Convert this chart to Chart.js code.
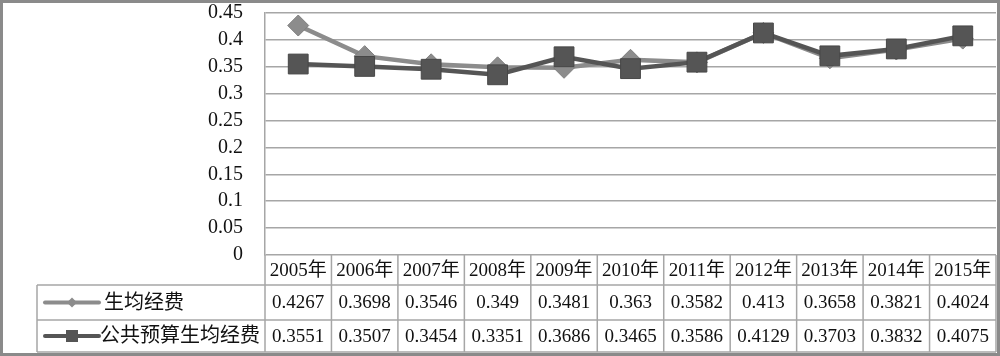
<!DOCTYPE html>
<html><head><meta charset="utf-8">
<script src="https://cdn.jsdelivr.net/npm/chart.js@4"></script>
<style>html,body{margin:0;padding:0;background:#fff}#wrap{width:1000px;height:356px;position:relative}</style>
</head><body><div id="wrap"><canvas id="c" width="1000" height="356"></canvas></div>
<script>
const categories = ["2005年","2006年","2007年","2008年","2009年","2010年","2011年","2012年","2013年","2014年","2015年"];
const seriesNames = ["生均经费","公共预算生均经费"];
const perStudent = [0.4267,0.3698,0.3546,0.349,0.3481,0.363,0.3582,0.413,0.3658,0.3821,0.4024];
const publicBudget = [0.3551,0.3507,0.3454,0.3351,0.3686,0.3465,0.3586,0.4129,0.3703,0.3832,0.4075];
const perStudentLabels = ["0.4267","0.3698","0.3546","0.349","0.3481","0.363","0.3582","0.413","0.3658","0.3821","0.4024"];
const publicBudgetLabels = ["0.3551","0.3507","0.3454","0.3351","0.3686","0.3465","0.3586","0.4129","0.3703","0.3832","0.4075"];
const yTicks = [0,0.05,0.1,0.15,0.2,0.25,0.3,0.35,0.4,0.45];

const SERIF = '"Liberation Serif", "Noto Sans CJK SC", serif';
const C1 = '#8c8c8c', C2 = '#555555', GRID = '#a6a6a6';

const tablePlugin = {
  id: 'dataTable',
  afterDraw(chart) {
    const ctx = chart.ctx, xs = chart.scales.x, ca = chart.chartArea;
    const n = categories.length;
    const colW = (ca.right - ca.left) / n;
    const y0 = ca.bottom, y1 = 285, y2 = 320, y3 = 352, legL = 37;
    ctx.save();
    ctx.strokeStyle = GRID; ctx.lineWidth = 1.5;
    ctx.beginPath();
    for (let i = 0; i <= n; i++) {
      const x = ca.left + i * colW;
      ctx.moveTo(x, y0); ctx.lineTo(x, y3);
    }
    [y1, y2, y3].forEach(y => { ctx.moveTo(legL, y); ctx.lineTo(ca.right, y); });
    ctx.moveTo(legL, y1); ctx.lineTo(legL, y3);
    ctx.stroke();

    ctx.fillStyle = '#111';
    ctx.textAlign = 'center'; ctx.textBaseline = 'middle';
    ctx.font = '19px ' + SERIF;
    categories.forEach((c, i) => ctx.fillText(c, xs.getPixelForValue(i), (y0 + y1) / 2 + 1));
    perStudentLabels.forEach((v, i) => ctx.fillText(v, xs.getPixelForValue(i), (y1 + y2) / 2 + 1));
    publicBudgetLabels.forEach((v, i) => ctx.fillText(v, xs.getPixelForValue(i), (y2 + y3) / 2 + 1));

    // legend keys
    const rows = [[(y1 + y2) / 2, C1, 'diamond'], [(y2 + y3) / 2, C2, 'square']];
    rows.forEach(([y, col, shape], k) => {
      ctx.strokeStyle = col; ctx.lineWidth = 4; ctx.lineCap = 'round';
      ctx.beginPath(); ctx.moveTo(45, y); ctx.lineTo(99, y); ctx.stroke();
      ctx.fillStyle = col;
      ctx.beginPath();
      if (shape === 'diamond') {
        ctx.moveTo(72, y - 5); ctx.lineTo(77, y); ctx.lineTo(72, y + 5); ctx.lineTo(67, y);
      } else {
        ctx.rect(66, y - 6, 12, 12);
      }
      ctx.closePath(); ctx.fill();
      ctx.fillStyle = '#111'; ctx.textAlign = 'left'; ctx.font = '20px ' + SERIF;
      ctx.fillText(seriesNames[k], k === 0 ? 104 : 100, y + 1);
    });

    // outer border
    ctx.strokeStyle = '#8a8a8a'; ctx.lineWidth = 3;
    ctx.strokeRect(1.5, 1.5, 997, 353);
    ctx.restore();
  }
};

new Chart(document.getElementById('c'), {
  type: 'line',
  data: {
    labels: categories,
    datasets: [
      { label: seriesNames[0], data: perStudent, borderColor: C1, backgroundColor: C1,
        borderWidth: 4.5, pointStyle: 'rectRot', pointRadius: 10.5, pointBorderColor: '#7e7e7e',
        pointBorderWidth: 1, pointBackgroundColor: C1, tension: 0, order: 1 },
      { label: seriesNames[1], data: publicBudget, borderColor: C2, backgroundColor: C2,
        borderWidth: 4.5, pointStyle: 'rect', pointRadius: 14, pointBorderColor: '#474747',
        pointBorderWidth: 1, pointBackgroundColor: C2, tension: 0, order: 0 }
    ]
  },
  options: {
    responsive: false, animation: false, devicePixelRatio: 1,
    layout: { autoPadding: false, padding: { left: 3, top: 13, right: 4, bottom: 101 } },
    plugins: { legend: { display: false }, tooltip: { enabled: false } },
    scales: {
      x: { display: false, offset: true },
      y: {
        min: 0, max: 0.45,
        afterFit(s) { s.width = 262; s.paddingTop = 0; s.paddingBottom = 0; s.paddingLeft = 0; s.paddingRight = 0; },
        afterBuildTicks(s) { s.ticks = yTicks.map(v => ({ value: v })); },
        ticks: { autoSkip: false, color: '#111', padding: 22, font: { family: SERIF, size: 20 },
          callback: v => String(v) },
        grid: { color: GRID, lineWidth: 1.5, drawTicks: false },
        border: { display: true, color: GRID, width: 1.5 }
      }
    }
  },
  plugins: [tablePlugin]
});
</script></body></html>
